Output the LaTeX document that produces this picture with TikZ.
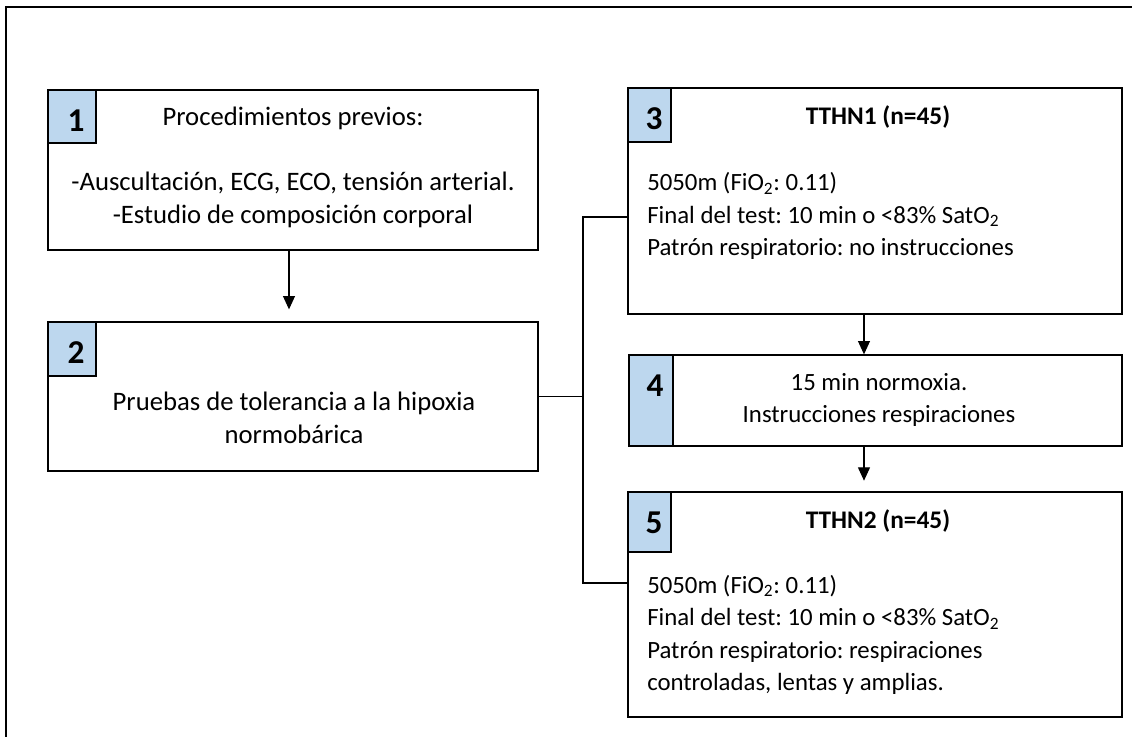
\documentclass[tikz,border=0pt]{standalone}
\usepackage{fontspec}
\setmainfont{Carlito}
\usetikzlibrary{fit,arrows.meta}
\definecolor{numfill}{RGB}{189,215,238}
\frenchspacing
\tikzset{
  frameline/.style={line width=1.5pt},
  box/.style={draw, line width=1pt, inner sep=0pt},
  numbox/.style={draw, line width=1pt, inner sep=0pt, fill=numfill},
  numtxt/.style={font=\fontsize{25pt}{28pt}\selectfont\bfseries, anchor=base, inner sep=0pt},
  bigtxt/.style={font=\fontsize{20pt}{24.4pt}\selectfont, inner sep=0pt},
  maintxt/.style={font=\fontsize{18.6pt}{24.4pt}\selectfont, inner sep=0pt},
  headtxt/.style={font=\fontsize{19pt}{24.4pt}\selectfont\bfseries, anchor=base, inner sep=0pt},
  arr/.style={-{Triangle[width=9pt,length=10pt]}, line width=0.8pt},
  link/.style={line width=0.8pt}
}
\begin{document}
\begin{tikzpicture}[x=0.75pt,y=-0.75pt]
\useasboundingbox (0,0) rectangle (1132,736);
% outer frame (only top and left edges visible)
\draw[frameline] (6,740) -- (6,7) -- (1136,7);

% boxes
\node[box, fit={(48,90) (538,250)}] (b1) {};
\node[box, fit={(48,322) (538,471)}] (b2) {};
\node[box, fit={(628,88) (1122,314)}] (b3) {};
\node[box, fit={(629,355) (1122,446)}] (b4) {};
\node[box, fit={(628,492) (1122,717)}] (b5) {};

% number squares
\node[numbox, fit={(48,90) (96,143)}] (s1) {};
\node[numbox, fit={(48,322) (96,376)}] (s2) {};
\node[numbox, fit={(628,88) (671,142)}] (s3) {};
\node[numbox, fit={(629,355) (673,446)}] (s4) {};
\node[numbox, fit={(628,492) (671,552)}] (s5) {};

\node[numtxt] (n1) at (76,131) {1};
\node[numtxt] (n2) at (76,363) {2};
\node[numtxt] (n3) at (654,129) {3};
\node[numtxt] (n4) at (655,396) {4};
\node[numtxt] (n5) at (654,533) {5};

% texts
\node[bigtxt, anchor=base] (t1a) at (293,125) {Procedimientos previos:};
\node[bigtxt, align=center] (t1b) at (293,200) {-Auscultación, ECG, ECO, tensión arterial.\\-Estudio de composición corporal};
\node[bigtxt, align=center] (t2) at (294,418) {Pruebas de tolerancia a la hipoxia\\normobárica};
\node[headtxt] (h3) at (878,124) {TTHN1 (n=45)};
\node[maintxt, align=left, anchor=west] (t3) at (647,216) {5050m (FiO\textsubscript{2}: 0.11)\\Final del test: 10 min o <83\% SatO\textsubscript{2}\\Patrón respiratorio: no instrucciones};
\node[maintxt, align=center] (t4) at (879,400) {15 min normoxia.\\Instrucciones respiraciones};
\node[headtxt] (h5) at (878,528) {TTHN2 (n=45)};
\node[maintxt, align=left, anchor=west] (t5) at (647,635) {5050m (FiO\textsubscript{2}: 0.11)\\Final del test: 10 min o <83\% SatO\textsubscript{2}\\Patrón respiratorio: respiraciones\\controladas, lentas y amplias.};

% arrows
\coordinate (a12) at (289,0);
\coordinate (a345) at (864,0);
\draw[arr, shorten >=9pt] (b1.south -| a12) -- (b2.north -| a12);
\draw[arr] (b3.south -| a345) -- (b4.north -| a345);
\draw[arr, shorten >=8pt] (b4.south -| a345) -- (b5.north -| a345);

% branching connector
\coordinate (bus) at (583,0);
\coordinate (j3) at (628,217);
\coordinate (j5) at (628,583);
\draw[link] (b2.east) -- (b2.east -| bus);
\draw[link] (j3) -- (j3 -| bus) -- (j5 -| bus) -- (j5);
\end{tikzpicture}
\end{document}
